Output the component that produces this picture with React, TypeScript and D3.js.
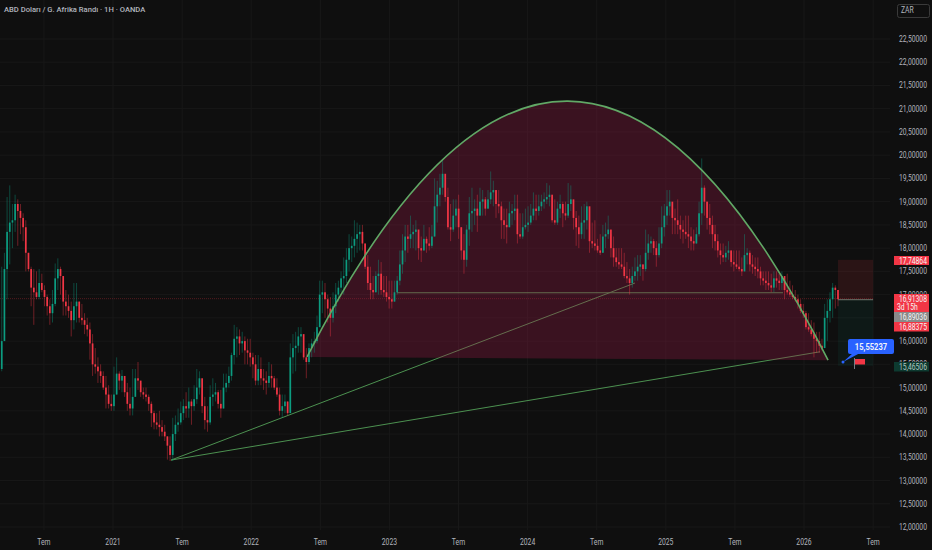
import { path, scaleLinear } from 'd3'

const width = 932
const height = 550

// weekly candles, open is the previous close
const firstOpen = 15.4
const closes = [
  16.0, 17.55, 18.35, 18.55, 18.6, 18.95, 18.8, 18.65, 18.45, 17.9, 17.55, 17.15, 17.05, 16.95, 17.25, 17.1, 16.95, 16.75, 16.6, 16.8,
  17.35, 17.55, 17.4, 16.85, 16.75, 16.65, 16.45, 16.75, 16.85, 16.5, 16.45, 16.35, 16.25, 15.95, 15.5, 15.45, 15.35, 15.25, 15.0, 14.85,
  14.65, 14.6, 14.85, 15.3, 15.15, 15.25, 14.9, 14.65, 14.55, 14.8, 15.2, 15.15, 14.9, 14.85, 14.8, 14.65, 14.45, 14.25, 14.2, 14.15,
  14.05, 13.95, 13.75, 13.55, 14.0, 14.2, 14.25, 14.45, 14.6, 14.55, 14.7, 14.6, 14.75, 15.0,
  15.2, 14.6, 14.3, 14.25, 14.8, 14.85, 14.9, 14.65, 14.55, 15.0, 15.1, 15.25, 15.7, 16.05, 16.1, 15.95, 16.0, 15.8, 15.75, 15.65,
  15.5, 15.15, 15.4, 15.2, 15.15, 15.1, 15.25, 15.2, 15.0, 14.85, 14.5, 14.6, 14.7, 14.45, 15.65, 15.85, 15.9, 16.1, 16.15, 15.65,
  15.55, 15.85, 15.95, 16.0, 16.3, 17.0, 17.05, 16.9, 16.7, 16.5, 16.75, 17.0, 17.15, 17.35, 17.4, 17.75, 18.0, 18.05, 18.2, 18.3,
  18.35, 18.1, 17.6, 17.25, 17.1, 17.05, 17.4, 17.45, 17.1, 17.05, 16.95, 16.9, 16.85, 17.05, 17.3, 17.65, 17.95, 18.25, 18.2, 18.3,
  18.35, 18.4, 18.0, 17.95, 18.2, 18.1, 18.05, 18.25, 18.9, 19.15, 19.3, 19.6, 19.1, 18.45, 18.4, 18.7, 18.85, 18.45,
  17.95, 17.75, 18.4, 18.75, 18.8, 18.85, 18.7, 19.0, 19.05, 18.85, 19.05, 19.2, 19.25, 18.95, 18.9, 18.6, 18.5, 18.45, 18.75, 18.8,
  18.85, 18.3, 18.25, 18.45, 18.5, 18.55, 18.7, 18.85, 18.8, 18.9, 19.0, 19.05, 19.1, 19.15, 18.6, 18.55, 18.85, 18.95, 18.75, 18.7,
  18.95, 19.05, 18.65, 18.45, 18.3, 18.55, 18.6, 18.9, 18.15, 18.1, 18.05, 17.95, 17.9, 18.25, 18.3, 18.4, 18.0, 17.8, 17.7, 17.65,
  17.6, 17.4, 17.35, 17.25, 17.4, 17.5, 17.6,
  17.65, 17.55, 17.9, 18.1, 18.15, 18.0, 17.85, 18.1, 18.45, 18.7, 18.9, 19.0, 18.65, 18.6, 18.5, 18.4, 18.35, 18.3, 18.25, 18.15,
  18.1, 18.3, 18.75, 19.3, 19.0, 18.65, 18.5, 18.3, 18.15, 17.95, 17.85, 17.8, 17.9, 17.95, 17.7, 17.65, 17.6, 17.55, 17.5, 17.85,
  17.9, 17.65, 17.6, 17.55, 17.5, 17.35, 17.3, 17.25, 17.2, 17.15, 17.35, 17.3, 17.25, 17.4, 17.1, 17.05, 17.0, 16.95, 16.9, 16.8,
  16.65, 16.6, 16.3, 16.25, 16.15, 16.05, 16.0, 15.9, 15.85, 16.5, 16.65, 16.9, 17.15, 17.1, 16.9,
]
const highs = [
  17.6, 17.9, 19.1, 19.35, 18.95, 19.15, 19.05, 18.95, 18.75, 18.6, 17.9, 17.6, 17.55, 17.5, 17.55, 17.45, 17.2, 17.0, 16.9, 17.1,
  17.67, 17.78, 17.6, 17.3, 17.1, 17.0, 16.85, 17.25, 17.25, 16.85, 16.8, 16.6, 16.5, 16.4, 16.15, 15.85, 15.65, 15.5, 15.35, 15.25,
  15.05, 14.85, 15.45, 15.65, 15.35, 15.38, 15.2, 15.1, 15.0, 15.4, 15.4, 15.55, 15.1, 15.0, 15.0, 14.85, 14.7, 14.5, 14.45, 14.5,
  14.3, 14.2, 13.95, 13.95, 14.35, 14.4, 14.55, 14.7, 14.75, 14.9, 15.0, 14.75, 15.05, 15.4,
  15.35, 14.95, 14.8, 14.6, 15.05, 15.2, 15.1, 14.95, 14.95, 15.3, 15.3, 15.45, 15.75, 16.35, 16.3, 16.25, 16.2, 16.1, 16.05, 16.05,
  15.75, 15.7, 15.7, 15.65, 15.4, 15.35, 15.55, 15.5, 15.25, 15.2, 15.0, 14.85, 14.85, 14.7, 15.95, 16.15, 16.2, 16.3, 16.3, 15.9,
  15.85, 15.95, 16.05, 16.2, 16.55, 17.3, 17.3, 17.25, 17.0, 16.95, 17.05, 17.25, 17.3, 17.5, 17.8, 18.0, 18.3, 18.25, 18.6, 18.55,
  18.5, 18.5, 18.1, 17.85, 17.6, 17.4, 17.5, 17.75, 17.7, 17.4, 17.4, 17.3, 17.3, 17.3, 17.4, 17.95, 18.3, 18.5, 18.5, 18.7,
  18.5, 18.6, 18.3, 18.25, 18.5, 18.25, 18.45, 18.5, 19.5, 19.45, 19.6, 19.9, 19.4, 19.3, 18.95, 19.05, 19.05, 19.15,
  18.45, 18.3, 18.5, 19.1, 19.3, 19.05, 19.15, 19.3, 19.25, 19.1, 19.25, 19.65, 19.45, 19.25, 19.25, 19.0, 18.85, 18.85, 19.0, 18.95,
  19.15, 19.15, 18.75, 18.75, 18.85, 18.9, 18.95, 19.2, 19.15, 19.15, 19.15, 19.2, 19.4, 19.35, 19.1, 19.05, 19.0, 19.15, 19.0, 19.0,
  19.4, 19.35, 18.95, 18.8, 18.7, 18.9, 18.95, 19.0, 18.65, 18.55, 18.6, 18.2, 18.3, 18.5, 18.55, 18.7, 18.3, 18.25, 18.0, 18.0,
  18.0, 17.9, 17.7, 17.55, 17.6, 17.8, 17.85,
  17.85, 17.65, 18.4, 18.3, 18.25, 18.2, 18.15, 18.45, 18.9, 18.95, 19.25, 19.25, 18.95, 18.85, 19.05, 18.7, 18.6, 18.7, 18.7, 18.45,
  18.4, 18.45, 19.0, 19.93, 19.35, 19.0, 18.95, 18.7, 18.5, 18.3, 18.1, 18.1, 18.05, 18.15, 17.95, 17.95, 17.95, 17.95, 17.8, 18.3,
  18.0, 17.95, 17.85, 17.8, 17.8, 17.6, 17.5, 17.5, 17.5, 17.45, 17.5, 17.5, 17.45, 17.5, 17.4, 17.45, 17.3, 17.2, 17.1, 17.0,
  16.9, 16.8, 16.65, 16.6, 16.45, 16.4, 16.2, 16.2, 16.05, 16.8, 16.9, 17.05, 17.25, 17.2, 17.1,
]
const lows = [
  15.35, 16.3, 16.9, 17.65, 18.0, 18.35, 18.05, 18.3, 18.15, 17.5, 17.5, 16.75, 16.35, 16.9, 16.9, 17.05, 16.75, 16.55, 16.35, 16.4,
  16.75, 17.1, 17.0, 16.55, 16.55, 16.5, 16.1, 16.25, 16.4, 16.4, 16.35, 16.15, 16.1, 15.6, 15.25, 15.3, 15.1, 15.1, 14.95, 14.55,
  14.55, 14.5, 14.5, 14.85, 14.95, 14.9, 14.8, 14.5, 14.4, 14.4, 14.85, 14.95, 14.8, 14.75, 14.7, 14.5, 14.15, 14.1, 14.1, 13.95,
  13.95, 13.85, 13.45, 13.42, 13.42, 13.85, 14.05, 14.2, 14.3, 14.35, 14.35, 14.2, 14.5, 14.65,
  14.85, 14.45, 14.1, 14.05, 14.2, 14.6, 14.7, 14.55, 14.35, 14.55, 14.9, 15.0, 15.15, 15.5, 15.65, 15.7, 15.75, 15.5, 15.5, 15.45,
  15.2, 15.05, 15.05, 15.05, 14.95, 14.85, 15.0, 15.0, 14.95, 14.8, 14.4, 14.35, 14.45, 14.4, 14.45, 15.3, 15.35, 15.75, 15.75, 15.6,
  15.2, 15.5, 15.65, 15.75, 15.95, 16.3, 16.6, 16.5, 16.4, 16.1, 16.4, 16.6, 16.85, 17.05, 17.0, 17.25, 17.5, 17.7, 17.8, 17.9,
  17.95, 17.95, 17.55, 17.1, 16.9, 16.9, 17.05, 17.0, 17.0, 16.95, 16.85, 16.7, 16.7, 16.85, 17.0, 17.2, 17.45, 17.7, 17.9, 18.0,
  18.0, 17.95, 17.75, 17.7, 17.95, 17.9, 17.95, 18.0, 18.25, 18.55, 18.9, 19.15, 19.0, 18.4, 18.15, 18.35, 18.45, 18.2,
  17.75, 17.45, 17.6, 18.05, 18.35, 18.5, 18.35, 18.7, 18.7, 18.7, 18.85, 18.95, 18.9, 18.65, 18.75, 18.2, 18.2, 18.1, 18.45, 18.5,
  18.6, 18.1, 18.2, 18.2, 18.4, 18.35, 18.5, 18.6, 18.6, 18.7, 18.8, 18.85, 18.95, 18.9, 18.55, 18.5, 18.5, 18.65, 18.45, 18.6,
  18.65, 18.8, 18.4, 18.05, 18.0, 18.2, 18.2, 18.4, 17.9, 18.0, 17.95, 17.9, 17.85, 17.9, 18.0, 18.2, 17.8, 17.6, 17.6, 17.55,
  17.55, 17.35, 17.25, 17.0, 17.15, 17.3, 17.3,
  17.4, 17.3, 17.5, 17.75, 17.9, 17.85, 17.6, 17.8, 18.0, 18.25, 18.5, 18.7, 18.3, 18.3, 18.3, 18.2, 18.1, 18.2, 18.0, 17.95,
  17.95, 18.1, 18.25, 18.5, 18.7, 18.4, 18.3, 18.0, 17.95, 17.8, 17.65, 17.7, 17.7, 17.75, 17.6, 17.5, 17.55, 17.5, 17.4, 17.5,
  17.65, 17.5, 17.45, 17.4, 17.35, 17.2, 17.2, 17.1, 17.1, 17.05, 17.05, 17.15, 17.1, 17.1, 16.9, 17.0, 16.95, 16.9, 16.85, 16.7,
  16.6, 16.5, 16.25, 16.2, 16.1, 15.65, 15.75, 15.75, 15.8, 15.9, 16.0, 16.4, 16.5, 16.7, 16.75,
]
const firstCandleYear = 2020.195
const lastCandleYear = 2026.246

const priceTicks = [12, 12.5, 13, 13.5, 14, 14.5, 15, 15.5, 16, 16.5, 17, 17.5, 18, 18.5, 19, 19.5, 20, 20.5, 21, 21.5, 22, 22.5]
const timeTicks = [2020.5, 2021, 2021.5, 2022, 2022.5, 2023, 2023.5, 2024, 2024.5, 2025, 2025.5, 2026, 2026.5]
const timeLabels = ['Tem', '2021', 'Tem', '2022', 'Tem', '2023', 'Tem', '2024', 'Tem', '2025', 'Tem', '2026', 'Tem']

// drawings, as [year, price]
const arcStart: [number, number] = [2022.404, 15.66]
const arcControl: [number, number] = [2024.292, 26.7]
const arcEnd: [number, number] = [2026.174, 15.59]
const trendOrigin: [number, number] = [2021.42, 13.44]
const trendToA: [number, number] = [2024.777, 17.25]
const trendToB: [number, number] = [2026.116, 15.77]
const neckStart: [number, number] = [2023.055, 17.04]
const neckEnd: [number, number] = [2025.848, 17.04]
const lastPrice = 16.91308
const positionStart = 2026.246
const positionEnd = 2026.5
const positionTarget = 17.74864
const positionEntry = 16.89
const positionStop = 15.46506

const bg = '#0f0f0f'
const up = '#0c9c80'
const down = '#f23645'
const axisText = '#b2b5be'
const font = 'Roboto, sans-serif'

const comma = (v: number) => v.toFixed(5).replace('.', ',')

// the reference's labels are squeezed sideways
function Squeezed({ x, y, size = 8.5, fill, anchor = 'start', weight = 400, children }: {
  x: number
  y: number
  size?: number
  fill: string
  anchor?: 'start' | 'middle' | 'end'
  weight?: number
  children: string
}) {
  return (
    <text
      transform={`translate(${x},${y}) scale(0.8,1)`}
      textAnchor={anchor}
      fontSize={size}
      fontWeight={weight}
      fill={fill}
      fontFamily={font}
    >
      {children}
    </text>
  )
}

export default function App() {
  const x = scaleLinear().domain([2021, 2026]).range([113, 804])
  const y = scaleLinear().domain([12, 22.5]).range([527, 39])
  const barYear = scaleLinear().domain([0, closes.length - 1]).range([firstCandleYear, lastCandleYear])

  const arcPath = path()
  arcPath.moveTo(x(arcStart[0]), y(arcStart[1]))
  arcPath.quadraticCurveTo(x(arcControl[0]), y(arcControl[1]), x(arcEnd[0]), y(arcEnd[1]))
  const arcLine = arcPath.toString()

  const tipPath = path()
  tipPath.moveTo(853, 353)
  tipPath.lineTo(843, 362)
  tipPath.lineTo(860, 353)
  tipPath.closePath()

  const priceTag = (v: number, tagY: number, tagH: number, color: string, text = '#f5f5f5') => (
    <g key={`tag-${v}`}>
      <rect x={894} y={tagY} width={35} height={tagH} fill={color} />
      <Squeezed x={927} y={tagY + 7.5} anchor="end" fill={text}>
        {comma(v)}
      </Squeezed>
    </g>
  )

  return (
    <svg width={width} height={height} style={{ position: 'fixed', left: 0, top: 0, background: bg }}>
      {priceTicks.map((t) => (
        <line key={`gy-${t}`} x1={0} x2={890} y1={y(t)} y2={y(t)} stroke="#181818" />
      ))}
      {timeTicks.map((t) => (
        <line key={`gx-${t}`} x1={x(t)} x2={x(t)} y1={0} y2={530} stroke="#181818" />
      ))}

      <line x1={0} x2={873} y1={y(lastPrice)} y2={y(lastPrice)} stroke={down} strokeOpacity={0.3} strokeDasharray="1 1" />

      {[trendToA, trendToB].map((p, i) => (
        <line key={i} x1={x(trendOrigin[0])} y1={y(trendOrigin[1])} x2={x(p[0])} y2={y(p[1])} stroke="#4c9150" strokeWidth={1} />
      ))}
      <line x1={x(neckStart[0])} y1={y(neckStart[1])} x2={x(neckEnd[0])} y2={y(neckEnd[1])} stroke="#4c9150" strokeWidth={1} />

      <path d={`${arcLine}Z`} fill="#a01a48" fillOpacity={0.3} />

      {closes.map((c, i) => {
        const o = i === 0 ? firstOpen : closes[i - 1]
        const cx = x(barYear(i))
        const color = c >= o ? up : down
        const top = y(Math.max(o, c))
        const bottom = y(Math.min(o, c))
        return (
          <g key={i}>
            <line x1={cx} x2={cx} y1={y(highs[i])} y2={y(lows[i])} stroke={color} strokeOpacity={0.42} strokeWidth={1} />
            <rect x={cx - 0.85} y={top} width={1.7} height={Math.max(bottom - top, 1)} fill={color} />
          </g>
        )
      })}

      <path d={arcLine} fill="none" stroke="#61a866" strokeWidth={1.6} />

      <rect x={x(positionStart)} width={x(positionEnd) - x(positionStart)} y={y(positionTarget)} height={y(positionEntry) - y(positionTarget)} fill={down} fillOpacity={0.12} />
      <rect x={x(positionStart)} width={x(positionEnd) - x(positionStart)} y={y(positionEntry)} height={y(positionStop) - y(positionEntry)} fill={up} fillOpacity={0.08} />
      <line x1={x(positionStart)} x2={x(positionEnd)} y1={y(positionEntry)} y2={y(positionEntry)} stroke="#70786f" strokeWidth={1} />

      <path d={tipPath.toString()} fill="#2962ff" />
      <circle cx={843} cy={362} r={1.5} fill="#2962ff" />
      <rect x={848} y={339} width={46} height={15} rx={2} fill="#2962ff" />
      <Squeezed x={871} y={349.5} size={9.5} weight={700} anchor="middle" fill="#f0f3fa">
        15,55237
      </Squeezed>
      <line x1={854.5} x2={854.5} y1={358} y2={369} stroke="#787b86" />
      <rect x={855} y={359} width={10} height={5.5} fill={down} />

      {priceTicks.map((t) => (
        <Squeezed key={t} x={927} y={y(t) + 3} anchor="end" fill={axisText}>
          {comma(t)}
        </Squeezed>
      ))}
      {timeTicks.map((t, i) => (
        <Squeezed key={`tx-${t}`} x={x(t)} y={545} anchor="middle" fill={axisText}>
          {timeLabels[i]}
        </Squeezed>
      ))}

      {priceTag(17.74864, 256, 9, '#f23645')}
      <rect x={894} y={294} width={35} height={18} fill="#f23645" />
      <Squeezed x={927} y={301.5} anchor="end" fill="#f5f5f5">
        {comma(16.91308)}
      </Squeezed>
      <Squeezed x={897} y={310} fill="#f5f5f5">
        3d 15h
      </Squeezed>
      {priceTag(16.89036, 312, 10, '#8a8a8a')}
      {priceTag(16.88375, 322, 9.5, '#f23645')}
      {priceTag(15.46506, 362, 9.5, '#0d3a30', '#b2c8c0')}

      <text x={4} y={12} fontSize={7.6} fontWeight={500} fill={axisText} fontFamily={font}>
        ABD Doları / G. Afrika Randı · 1H · OANDA
      </text>
      <rect x={897.5} y={4.5} width={32} height={13} rx={2} fill="none" stroke="#3a3a3a" />
      <Squeezed x={901} y={13} fill={axisText}>
        ZAR
      </Squeezed>
    </svg>
  )
}
